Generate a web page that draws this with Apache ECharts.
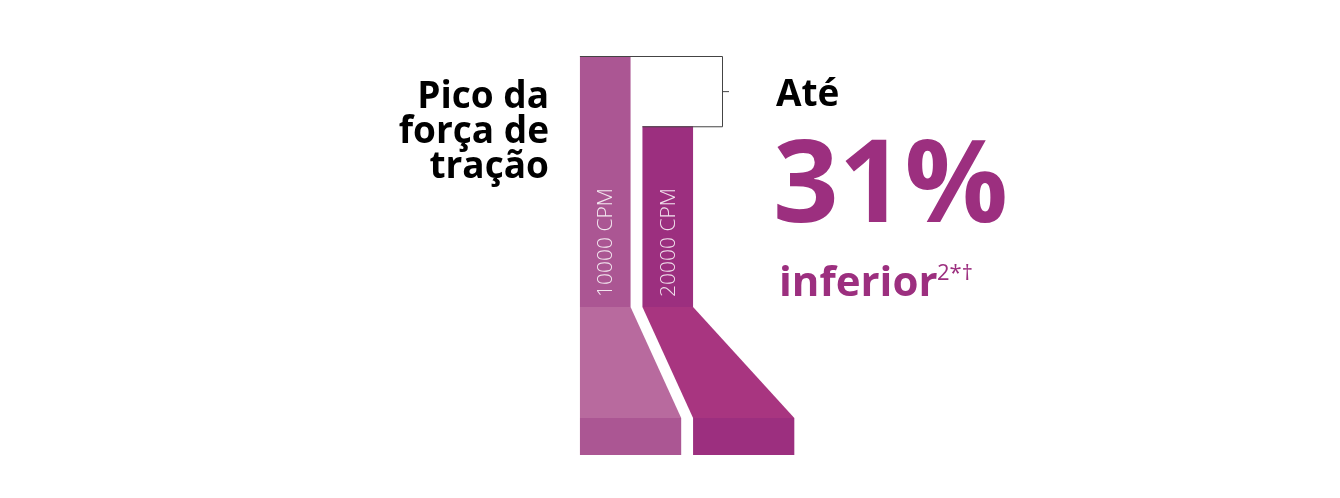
<!DOCTYPE html>
<html>
<head>
<meta charset="utf-8">
<script src="https://cdn.jsdelivr.net/npm/echarts@6/dist/echarts.min.js"></script>
<style>
html,body{margin:0;padding:0;background:#fff;}
#c{width:1340px;height:498px;}
</style>
</head>
<body>
<div id="c"></div>
<script>
// Data
const categories = ['10000 CPM', '20000 CPM'];
const peakForce = [100, 72];            // relative peak traction force
const headlineLines = ['Pico da', 'força de', 'tração'];
const calloutPrefix = 'Até';
const calloutValue = '31%';
const calloutSuffix = 'inferior';
const calloutNote = '2*†';

const colColors = ['#AB5693', '#9C2F7F'];
const taperColors = ['#B86A9E', '#A83580'];
const baseColors = ['#AB5693', '#9C2F7F'];

const chart = echarts.init(document.getElementById('c'), null, {renderer: 'canvas'});

const seriesData = categories.map((c, i) => [i, peakForce[i]]);

chart.setOption({
  animation: false,
  backgroundColor: '#ffffff',
  grid: {left: 574, width: 125, top: 56, height: 251},
  xAxis: {type: 'category', data: categories, show: false},
  yAxis: {type: 'value', min: 0, max: 100, show: false},
  series: [{
    type: 'custom',
    data: seriesData,
    renderItem: function (params, api) {
      const i = api.value(0);
      const top = api.coord([i, api.value(1)]);
      const base = api.coord([i, 0]);
      const w = api.size([1, 0])[0] * 0.81;
      const x0 = top[0] - w / 2, x1 = top[0] + w / 2;
      const taperH = 111, baseH = 37;
      const bl = x0 + i * w, br = x1 + (i + 1) * w;
      const by = base[1];
      const children = [
        {type: 'rect', shape: {x: x0, y: top[1], width: w, height: by - top[1]}, style: {fill: colColors[i]}},
        {type: 'polygon', shape: {points: [[x0, by], [x1, by], [br, by + taperH], [bl, by + taperH]]}, style: {fill: taperColors[i]}},
        {type: 'rect', shape: {x: bl, y: by + taperH, width: br - bl, height: baseH}, style: {fill: baseColors[i]}},
        {type: 'text', x: top[0] + 1, y: by - 10, rotation: Math.PI / 2,
          style: {text: categories[i], fill: 'rgba(255,255,255,0.85)', font: '300 21px "Open Sans"', align: 'left', verticalAlign: 'middle'}}
      ];
      if (i === 1) {
        const p0 = api.coord([0, peakForce[0]]);
        const left0 = p0[0] - w / 2;
        const bx = 722;
        const ls = {stroke: '#444', lineWidth: 1, fill: null};
        children.push(
          {type: 'polyline', shape: {points: [[left0, p0[1] + 0.5], [bx + 0.5, p0[1] + 0.5], [bx + 0.5, top[1] + 0.5], [x0, top[1] + 0.5]]}, style: ls},
          {type: 'line', shape: {x1: bx, y1: (p0[1] + top[1]) / 2 + 0.5, x2: bx + 7, y2: (p0[1] + top[1]) / 2 + 0.5}, style: ls}
        );
      }
      return {type: 'group', children: children};
    }
  }],
  graphic: [
    {type: 'text', x: 549, y: 80, style: {text: headlineLines.join('\n'), font: 'bold 37px "Open Sans"', fill: '#000', align: 'right', verticalAlign: 'top', lineHeight: 35}},
    {type: 'text', x: 776, y: 95, style: {text: calloutPrefix, font: 'bold 37px "Open Sans"', fill: '#000', align: 'left', verticalAlign: 'middle'}},
    {type: 'text', x: 773, y: 189, style: {text: calloutValue, font: 'bold 115px "Open Sans"', fill: '#9C2F7F', align: 'left', verticalAlign: 'middle'}},
    {type: 'text', x: 779, y: 284, style: {text: calloutSuffix, font: 'bold 42px "Open Sans"', fill: '#9C2F7F', align: 'left', verticalAlign: 'middle'}},
    {type: 'text', x: 937, y: 274, style: {text: calloutNote, font: '22px "Open Sans"', fill: '#9C2F7F', align: 'left', verticalAlign: 'middle'}}
  ]
});
</script>
</body>
</html>
